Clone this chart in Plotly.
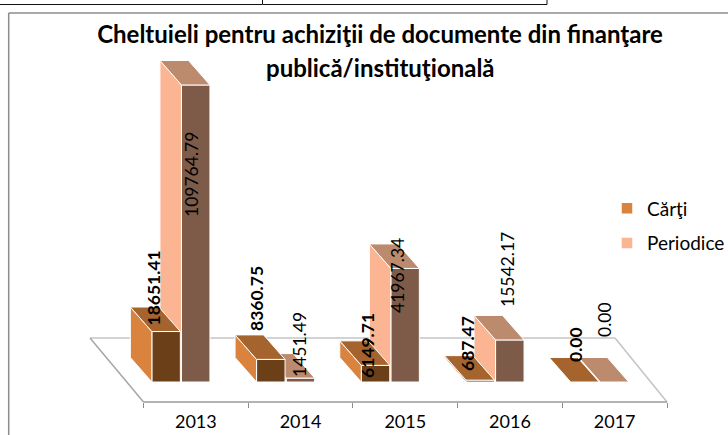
import plotly.graph_objects as go

years = ["2013", "2014", "2015", "2016", "2017"]
carti = [18651.41, 8360.75, 6149.71, 687.47, 0.00]
periodice = [109764.79, 1451.49, 41967.34, 15542.17, 0.00]

W, H = 728, 435
L, R, T, B = 60, 728, 50, 402
CAT_PX = 104.7
X0_PX = 195.85
Y0_PX = 382.0
VAL_PX = 0.002706

FONT = "Lato"
INK = "#000000"
CARTI_COL = dict(side="#D9833F", top="#A5632E", front="#6B4019")
PER_COL = dict(side="#FBB592", top="#BC8A6C", front="#7E5B48")

def dx(px):
    return px / CAT_PX

def dv(px):
    return px / VAL_PX

def xp(px):
    return (px - L) / (R - L)

def yp(px):
    return (B - px) / (B - T)

xr = [(L - X0_PX) / CAT_PX, (R - X0_PX) / CAT_PX]
yr = [(Y0_PX - B) / VAL_PX, (Y0_PX - T) / VAL_PX]

BAR_W = dx(28.5)
DEPTH_X = dx(-21.5)
DEPTH_V = dv(24.5)
OFFS = {"c": dx(-44.0), "p": dx(-14.4)}

def faces(values, off):
    sx, sy, tx, ty = [], [], [], []
    for i, v in enumerate(values):
        a = i + off
        b = a + BAR_W
        sx += [a, a + DEPTH_X, a + DEPTH_X, a, a, None]
        sy += [0, DEPTH_V, v + DEPTH_V, v, 0, None]
        tx += [a, a + DEPTH_X, b + DEPTH_X, b, a, None]
        ty += [v, v + DEPTH_V, v + DEPTH_V, v, v, None]
    return sx, sy, tx, ty

def add_series(fig, name, values, off, col, xa, ya):
    fig.add_trace(go.Bar(x=list(range(len(values))), y=values, width=BAR_W, offset=off,
                         marker=dict(color=col["front"], line=dict(color="white", width=1)),
                         xaxis=xa, yaxis=ya, showlegend=False, hoverinfo="skip", name=name))
    sx, sy, tx, ty = faces(values, off)
    for fx, fy, c in ((sx, sy, col["side"]), (tx, ty, col["top"])):
        fig.add_trace(go.Scatter(x=fx, y=fy, mode="lines", fill="toself", fillcolor=c,
                                 line=dict(color="white", width=1), xaxis=xa, yaxis=ya,
                                 showlegend=False, hoverinfo="skip"))

fig = go.Figure()
for name, col, group in (("Cărţi", CARTI_COL, "a"), ("Periodice", PER_COL, "b")):
    fig.add_trace(go.Scatter(x=[None], y=[None], mode="markers", name=name, legendgroup=group,
                             marker=dict(symbol="square", size=10.5, color=col["side"])))
add_series(fig, "Periodice", periodice, OFFS["p"], PER_COL, "x", "y")
add_series(fig, "Cărţi", carti, OFFS["c"], CARTI_COL, "x2", "y2")

# value labels: centre positions in page pixels
CARTI_LABEL_PX = [(153, 288.5), (256, 299), (367, 346), (467, 343), (575, 345)]
PER_LABEL_PX = [(191, 175), (299, 345), (397, 275), (507, 270), (604, 320)]
annotations = []
for vals, pos, weight in ((carti, CARTI_LABEL_PX, "<b>%s</b>"), (periodice, PER_LABEL_PX, "%s")):
    for v, (px, py) in zip(vals, pos):
        annotations.append(dict(text=weight % f"{v:.2f}", xref="paper", yref="paper", x=xp(px), y=yp(py),
                                xanchor="center", yanchor="middle", textangle=-90, showarrow=False,
                                font=dict(family=FONT, size=17.5, color=INK)))
annotations.append(dict(text="<b>publică/instituţională</b>", xref="paper", yref="paper", x=xp(380), y=yp(67),
                        xanchor="center", yanchor="middle", showarrow=False,
                        font=dict(family=FONT, size=24, color=INK)))

def seg(x0, y0, x1, y1, color, width):
    return dict(type="line", xref="paper", yref="paper", x0=xp(x0), y0=yp(y0), x1=xp(x1), y1=yp(y1),
                line=dict(color=color, width=width), layer="below")

shapes = [
    seg(90, 338, 615, 338, "#C4C4C4", 1.5),
    seg(90, 338, 143.5, 402, "#A6A6A6", 1.5),
    seg(615, 338, 667, 402, "#C4C4C4", 1.5),
    seg(143.5, 402, 667, 402, "#9A9A9A", 1.5),
    seg(8.7, 13, 728, 13, "#8C8C8C", 1.5),
    seg(8.7, 13, 8.7, 435, "#8C8C8C", 1.5),
    seg(0, 4.5, 262, 4.5, "#111111", 1),
    seg(262.5, 0, 262.5, 4.5, "#111111", 1),
    seg(262.5, 4.5, 547, 4.5, "#111111", 1),
    seg(547, 0, 547, 4.5, "#111111", 1),
]

fig.update_layout(
    width=W, height=H, autosize=False,
    margin=dict(l=L, r=W - R, t=T, b=H - B, pad=0, autoexpand=False),
    paper_bgcolor="white", plot_bgcolor="rgba(0,0,0,0)",
    barmode="overlay",
    font=dict(family=FONT, color=INK),
    title=dict(text="<b>Cheltuieli pentru achiziţii de documente din finanţare</b>",
               x=380 / W, xanchor="center", y=1 - 35 / H, yanchor="middle",
               font=dict(family=FONT, size=24, color=INK)),
    xaxis=dict(range=xr, automargin=False, tickmode="array", tickvals=list(range(len(years))), ticktext=years,
               ticks="", showgrid=False, zeroline=False, showline=False,
               tickfont=dict(family=FONT, size=18, color=INK), ticklabelstandoff=7,
               minor=dict(ticks="outside", tickmode="array", ticklen=5, tickcolor="#8C8C8C", tickwidth=1,
                          tickvals=[i - 0.5 for i in range(len(years) + 1)], showgrid=False)),
    yaxis=dict(range=yr, automargin=False, visible=False, showgrid=False, zeroline=False),
    xaxis2=dict(range=xr, overlaying="x", anchor="y2", visible=False, automargin=False),
    yaxis2=dict(range=yr, overlaying="y", anchor="x2", visible=False, automargin=False),
    legend=dict(x=xp(607), xanchor="left", y=yp(189.5), yanchor="top", traceorder="grouped", tracegroupgap=7,
                font=dict(family=FONT, size=19, color=INK), bgcolor="rgba(0,0,0,0)", itemwidth=30),
    annotations=annotations, shapes=shapes,
)

fig.write_html("out.html", config=dict(displayModeBar=False),
               post_script="document.body.style.margin='0';document.documentElement.style.overflow='hidden';")
